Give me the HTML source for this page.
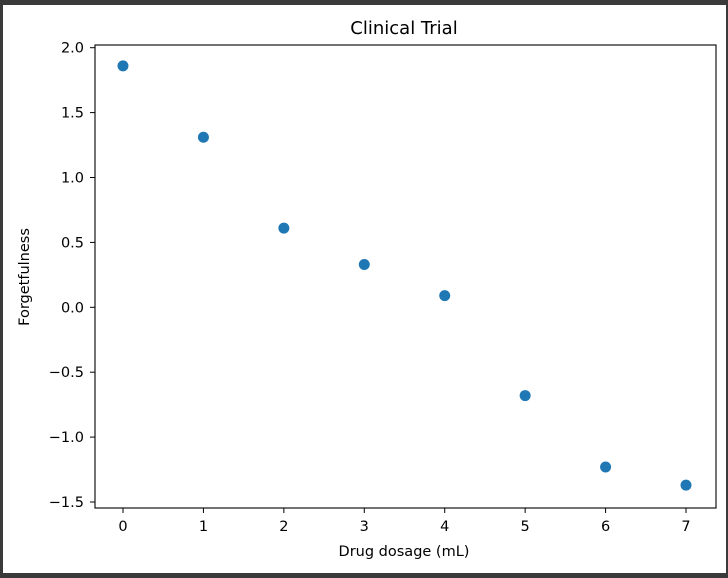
<!DOCTYPE html>
<html><head><meta charset="utf-8"><style>
html,body{margin:0;padding:0;background:#fff}
svg{display:block;font-family:"DejaVu Sans","Liberation Sans",sans-serif}
</style></head><body>
<svg id="chart" width="728" height="578" viewBox="0 0 728 578">
<rect x="0" y="0" width="728" height="578" fill="#3a3a3a"/>
<rect x="3" y="5" width="723" height="568" fill="#fff"/>
<text x="404" y="34" text-anchor="middle" font-size="18" fill="#000">Clinical Trial</text>
<text x="404" y="556" text-anchor="middle" font-size="14.5" fill="#000">Drug dosage (mL)</text>
<text x="0" y="0" transform="translate(29,277) rotate(-90)" text-anchor="middle" font-size="14.5" fill="#000">Forgetfulness</text>
<g id="ticks"></g>
<g id="points"></g>
<rect x="95" y="45" width="621" height="463" fill="none" stroke="#000" stroke-width="1.1"/>
</svg>
<script>
const categories=[0,1,2,3,4,5,6,7];
const values=[1.86,1.31,0.61,0.33,0.09,-0.68,-1.23,-1.37];
const xTicks=[0,1,2,3,4,5,6,7];
const yTicks=[2.0,1.5,1.0,0.5,0.0,-0.5,-1.0,-1.5];
const xScale=v=>123+v*80.43;
const yScale=v=>47.7+(2-v)*129.8;
const NS="http://www.w3.org/2000/svg";
const tg=document.getElementById('ticks');
const pg=document.getElementById('points');
xTicks.forEach(t=>{
  const x=xScale(t);
  const l=document.createElementNS(NS,'line');
  l.setAttribute('x1',x);l.setAttribute('x2',x);l.setAttribute('y1',508);l.setAttribute('y2',513);
  l.setAttribute('stroke','#000');
  
  
  tg.appendChild(l);
  const s=document.createElementNS(NS,'text');
  s.setAttribute('x',x);s.setAttribute('y',531);s.setAttribute('text-anchor','middle');s.setAttribute('font-size','14.5');
  s.textContent=String(t);
  
  
  tg.appendChild(s);
});
yTicks.forEach(t=>{
  const y=yScale(t);
  const l=document.createElementNS(NS,'line');
  l.setAttribute('x1',90);l.setAttribute('x2',95);l.setAttribute('y1',y);l.setAttribute('y2',y);
  l.setAttribute('stroke','#000');
  
  
  tg.appendChild(l);
  const s=document.createElementNS(NS,'text');
  s.setAttribute('x',84);s.setAttribute('y',y+5);s.setAttribute('text-anchor','end');s.setAttribute('font-size','14.5');
  s.textContent=(t<0?'\u2212':'')+Math.abs(t).toFixed(1);
  
  
  tg.appendChild(s);
});
categories.forEach((c,i)=>{
  const p=document.createElementNS(NS,'circle');
  p.setAttribute('cx',xScale(c));p.setAttribute('cy',yScale(values[i]));p.setAttribute('r',5.5);
  p.setAttribute('fill','#1f77b4');
  
  
  pg.appendChild(p);
});
</script>
</body></html>
